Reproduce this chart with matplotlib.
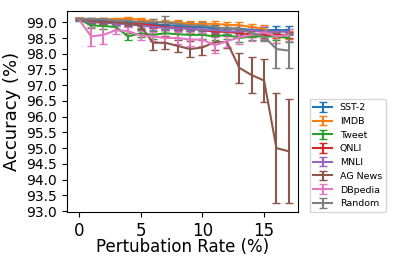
import matplotlib
matplotlib.use("Agg")
import matplotlib.pyplot as plt
import numpy as np

rates = list(range(18))

sst2 = [99.1, 99.05, 99.05, 99.0, 99.0, 99.0, 98.95, 98.9, 98.9, 98.85, 98.85, 98.8, 98.8, 98.8, 98.75, 98.75, 98.75, 98.75]
sst2_err = [0.05, 0.08, 0.08, 0.1, 0.1, 0.1, 0.1, 0.1, 0.1, 0.1, 0.1, 0.1, 0.1, 0.1, 0.1, 0.1, 0.12, 0.12]

imdb = [99.12, 99.1, 99.1, 99.1, 99.12, 99.08, 99.02, 99.0, 99.0, 98.95, 98.95, 98.95, 98.92, 98.9, 98.85, 98.8, 98.5, 98.6]
imdb_err = [0.03, 0.05, 0.05, 0.05, 0.06, 0.06, 0.08, 0.08, 0.08, 0.08, 0.1, 0.1, 0.1, 0.1, 0.1, 0.1, 0.15, 0.12]

tweet = [99.1, 98.9, 98.88, 98.85, 98.55, 98.65, 98.6, 98.65, 98.62, 98.6, 98.6, 98.55, 98.6, 98.5, 98.55, 98.55, 98.55, 98.5]
tweet_err = [0.03, 0.08, 0.08, 0.1, 0.12, 0.12, 0.12, 0.12, 0.12, 0.12, 0.12, 0.12, 0.12, 0.12, 0.12, 0.12, 0.12, 0.12]

qnli = [99.1, 99.0, 99.0, 99.0, 98.95, 98.95, 98.9, 98.85, 98.82, 98.8, 98.75, 98.7, 98.7, 98.65, 98.62, 98.6, 98.6, 98.6]
qnli_err = [0.03, 0.06, 0.06, 0.06, 0.08, 0.08, 0.08, 0.08, 0.08, 0.08, 0.1, 0.1, 0.1, 0.1, 0.1, 0.1, 0.1, 0.1]

mnli = [99.1, 99.0, 99.0, 98.95, 98.95, 98.9, 98.85, 98.82, 98.8, 98.8, 98.75, 98.75, 98.72, 98.7, 98.75, 98.7, 98.7, 98.7]
mnli_err = [0.03, 0.06, 0.06, 0.06, 0.08, 0.08, 0.08, 0.08, 0.08, 0.08, 0.1, 0.1, 0.1, 0.1, 0.1, 0.1, 0.1, 0.1]

agnews = [99.1, 99.05, 99.0, 99.0, 98.95, 98.9, 98.35, 98.35, 98.25, 98.15, 98.2, 98.37, 98.37, 97.55, 97.32, 97.15, 95.0, 94.9]
agnews_err = [0.03, 0.05, 0.05, 0.06, 0.08, 0.1, 0.22, 0.2, 0.2, 0.25, 0.25, 0.25, 0.2, 0.47, 0.57, 0.68, 1.75, 1.65]

dbpedia = [99.1, 98.55, 98.6, 98.75, 98.72, 98.58, 98.55, 98.5, 98.5, 98.45, 98.45, 98.27, 98.4, 98.52, 98.6, 98.68, 98.55, 98.6]
dbpedia_err = [0.03, 0.3, 0.3, 0.12, 0.12, 0.15, 0.15, 0.15, 0.2, 0.2, 0.2, 0.25, 0.2, 0.2, 0.2, 0.2, 0.2, 0.2]

rand = [99.1, 99.1, 99.1, 99.05, 99.05, 99.0, 99.0, 99.0, 98.95, 98.9, 98.9, 98.85, 98.8, 98.8, 98.65, 98.55, 98.15, 98.1]
rand_err = [0.03, 0.05, 0.05, 0.06, 0.06, 0.08, 0.1, 0.2, 0.1, 0.1, 0.1, 0.1, 0.1, 0.1, 0.12, 0.15, 0.6, 0.55]

series = [
    ("SST-2", sst2, sst2_err),
    ("IMDB", imdb, imdb_err),
    ("Tweet", tweet, tweet_err),
    ("QNLI", qnli, qnli_err),
    ("MNLI", mnli, mnli_err),
    ("AG News", agnews, agnews_err),
    ("DBpedia", dbpedia, dbpedia_err),
    ("Random", rand, rand_err),
]

fig = plt.figure(figsize=(3.99, 2.66), dpi=100)
ax = fig.add_axes([0.168, 0.203, 0.579, 0.757])
for name, vals, errs in series:
    ax.errorbar(rates, vals, yerr=errs, label=name, capsize=3, linewidth=1.5)

ax.set_ylim(92.97, 99.37)
ax.set_xlim(-0.95, 17.75)
ax.set_yticks(np.arange(93.0, 99.01, 0.5))
ax.set_xticks([0, 5, 10, 15])
ax.tick_params(axis='y', labelsize=10)
ax.tick_params(axis='x', labelsize=12)
ax.set_xlabel("Pertubation Rate (%)", fontsize=12, labelpad=-1)
ax.set_ylabel("Accuracy (%)", fontsize=13)
ax.legend(loc='lower left', bbox_to_anchor=(1.05, 0.0), borderaxespad=0, fontsize=6.8)

fig.savefig("out.png", dpi=100)
